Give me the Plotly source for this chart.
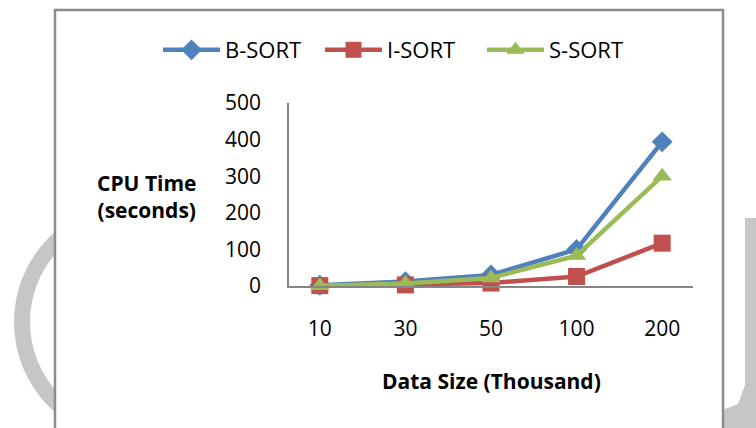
import plotly.graph_objects as go

categories = ["10", "30", "50", "100", "200"]
b_sort = [2, 12, 30, 100, 394]
i_sort = [1, 3, 8, 26, 117]
s_sort = [1, 7, 22, 83, 300]
y_ticks = [0, 100, 200, 300, 400, 500]

W, H = 756, 428
ML, MR, MT, MB = 289, 63, 103, 142
PW, PH = W - ML - MR, H - MT - MB


def px(x):
    return (x - ML) / PW


def py(y):
    return (H - MB - y) / PH


FONT = "Open Sans"
fig = go.Figure()
series = [
    ("B-SORT", b_sort, "#4F81BD", "diamond", 16),
    ("I-SORT", i_sort, "#C0504D", "square", 17),
    ("S-SORT", s_sort, "#9BBB59", "triangle-up", 17),
]
for name, vals, col, sym, sz in series:
    fig.add_trace(go.Scatter(
        x=categories, y=vals, name=name, mode="lines+markers",
        line=dict(color=col, width=4.5),
        marker=dict(symbol=sym, size=sz, color=col),
        cliponaxis=False,
    ))

shapes = []
# watermark ring (left)
cx, cy, r = 134, 322, 112
shapes.append(dict(type="circle", xref="paper", yref="paper",
                   x0=px(cx - r), x1=px(cx + r), y0=py(cy + r), y1=py(cy - r),
                   line=dict(color="#c6c6c6", width=16), layer="below"))
# watermark bar (right)
pts = [(745, 218), (756, 218), (756, 428), (722, 428), (722, 410),
       (738, 404), (745, 385)]
path = "M" + " L".join(f"{px(a):.5f},{py(b):.5f}" for a, b in pts) + " Z"
shapes.append(dict(type="path", xref="paper", yref="paper", path=path,
                   fillcolor="#c6c6c6", line=dict(width=0), layer="below"))
# chart box
shapes.append(dict(type="rect", xref="paper", yref="paper",
                   x0=px(55), x1=px(723), y0=py(432), y1=py(10),
                   fillcolor="white", line=dict(color="#8c8c8c", width=2.5),
                   layer="below"))

fig.update_layout(
    width=W, height=H,
    margin=dict(l=ML, r=MR, t=MT, b=MB, autoexpand=False),
    paper_bgcolor="white", plot_bgcolor="rgba(0,0,0,0)",
    font=dict(family=FONT, size=21, color="black"),
    shapes=shapes,
    showlegend=True,
    legend=dict(orientation="h", x=px(158), xanchor="left", y=py(50),
                yanchor="middle", font=dict(size=22), itemwidth=57,
                entrywidth=90, bgcolor="rgba(0,0,0,0)"),
    xaxis=dict(type="category", showgrid=False, showline=True,
               linecolor="#868686", linewidth=1.5, ticks="",
               ticklabelstandoff=23, zeroline=False),
    yaxis=dict(range=[0, 500], tickvals=y_ticks, showgrid=False,
               showline=True, linecolor="#868686", linewidth=1.5, ticks="",
               ticklabelstandoff=22, zeroline=False),
    annotations=[
        dict(text="<b>CPU Time<br>(seconds)</b>", xref="paper", yref="paper",
             x=px(199), y=py(196), xanchor="right", yanchor="middle",
             showarrow=False, align="center", font=dict(size=21)),
        dict(text="<b>Data Size (Thousand)</b>", xref="paper", yref="paper",
             x=px(491), y=py(381), xanchor="center", yanchor="middle",
             showarrow=False, font=dict(size=21)),
    ],
)

fig.write_html("out.html", config={"displayModeBar": False},
               post_script="document.body.style.margin='0';")
